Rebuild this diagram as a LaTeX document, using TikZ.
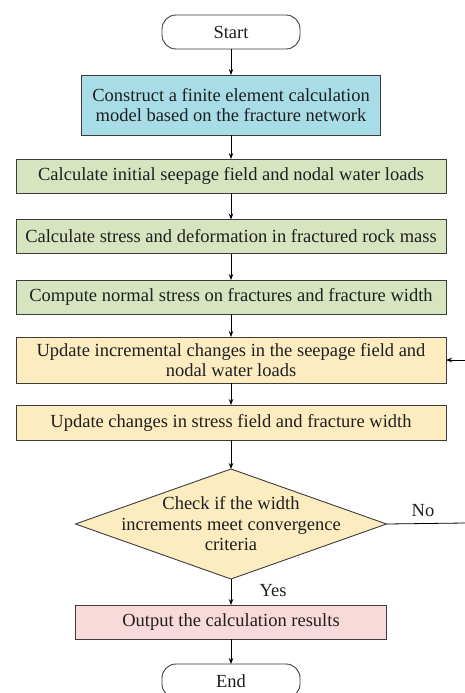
\documentclass[tikz,border=0pt]{standalone}
\usepackage{fontspec}
\setmainfont{Liberation Serif}
\usetikzlibrary{shapes.geometric,arrows.meta}
\definecolor{cblue}{RGB}{168,221,232}
\definecolor{cgreen}{RGB}{214,228,192}
\definecolor{cyellow}{RGB}{253,236,192}
\definecolor{cpink}{RGB}{248,218,218}
\definecolor{cborder}{RGB}{60,60,60}
\tikzset{
  txt/.style={font=\fontsize{18.5}{20.5}\selectfont, text=black!88},
  base/.style={draw=cborder, line width=0.9pt, inner sep=0pt, outer sep=0pt, align=center, txt},
  term/.style={base, rounded corners=14pt, minimum width=138pt, minimum height=34pt},
  procbox/.style={base, rectangle, minimum width=430pt, minimum height=34pt},
  decide/.style={draw=cborder, line width=0.9pt, diamond, inner sep=0pt, outer sep=0pt, minimum width=311pt, minimum height=110pt},
  conn/.style={draw=black, line width=0.8pt, -{Stealth[length=6pt,width=4.5pt]}},
  lbl/.style={txt, inner sep=0pt}
}
\begin{document}
\begin{tikzpicture}[x=1pt,y=1pt]
\useasboundingbox (0,0) rectangle (465,-693);
\node[term] (start) at (231,-32) {Start};
\node[base, fill=cblue, minimum width=299pt, minimum height=60pt] (b1) at (231,-105) {Construct a finite element calculation\\model based on the fracture network};
\node[procbox, fill=cgreen] (b2) at (231,-176) {Calculate initial seepage field and nodal water loads};
\node[procbox, fill=cgreen] (b3) at (231,-236.5) {Calculate stress and deformation in fractured rock mass};
\node[procbox, fill=cgreen] (b4) at (231,-297) {Compute normal stress on fractures and fracture width};
\node[procbox, fill=cyellow, minimum height=46pt] (b5) at (231,-360) {Update incremental changes in the seepage field and\\nodal water loads};
\node[procbox, fill=cyellow, minimum height=35pt] (b6) at (231,-422.5) {Update changes in stress field and fracture width};
\node[decide, fill=cyellow] (d) at (231,-524) {};
\node[txt, align=center, inner sep=0pt] (dtext) at (d.center) {Check if the width\\increments meet convergence\\criteria};
\node[base, fill=cpink, minimum width=311pt, minimum height=34pt] (b7) at (231,-622) {Output the calculation results};
\node[term] (end) at (231,-681) {End};
\coordinate (noend) at (465,-523);
\coordinate (backin) at (465,-360);
\draw[conn] (start) -- (b1);
\draw[conn] (b1) -- (b2);
\draw[conn] (b2) -- (b3);
\draw[conn] (b3) -- (b4);
\draw[conn] (b4) -- (b5);
\draw[conn] (b5) -- (b6);
\draw[conn] (b6) -- (d.north);
\draw[conn] (d.south) -- (b7);
\draw[conn] (b7) -- (end);
\draw[draw=black, line width=0.8pt] (d.east) -- (noend);
\draw[conn] (backin) -- (b5.east);
\node[lbl] (yes) at (273,-591) {Yes};
\node[lbl] (no) at (423,-511) {No};
\end{tikzpicture}
\end{document}
